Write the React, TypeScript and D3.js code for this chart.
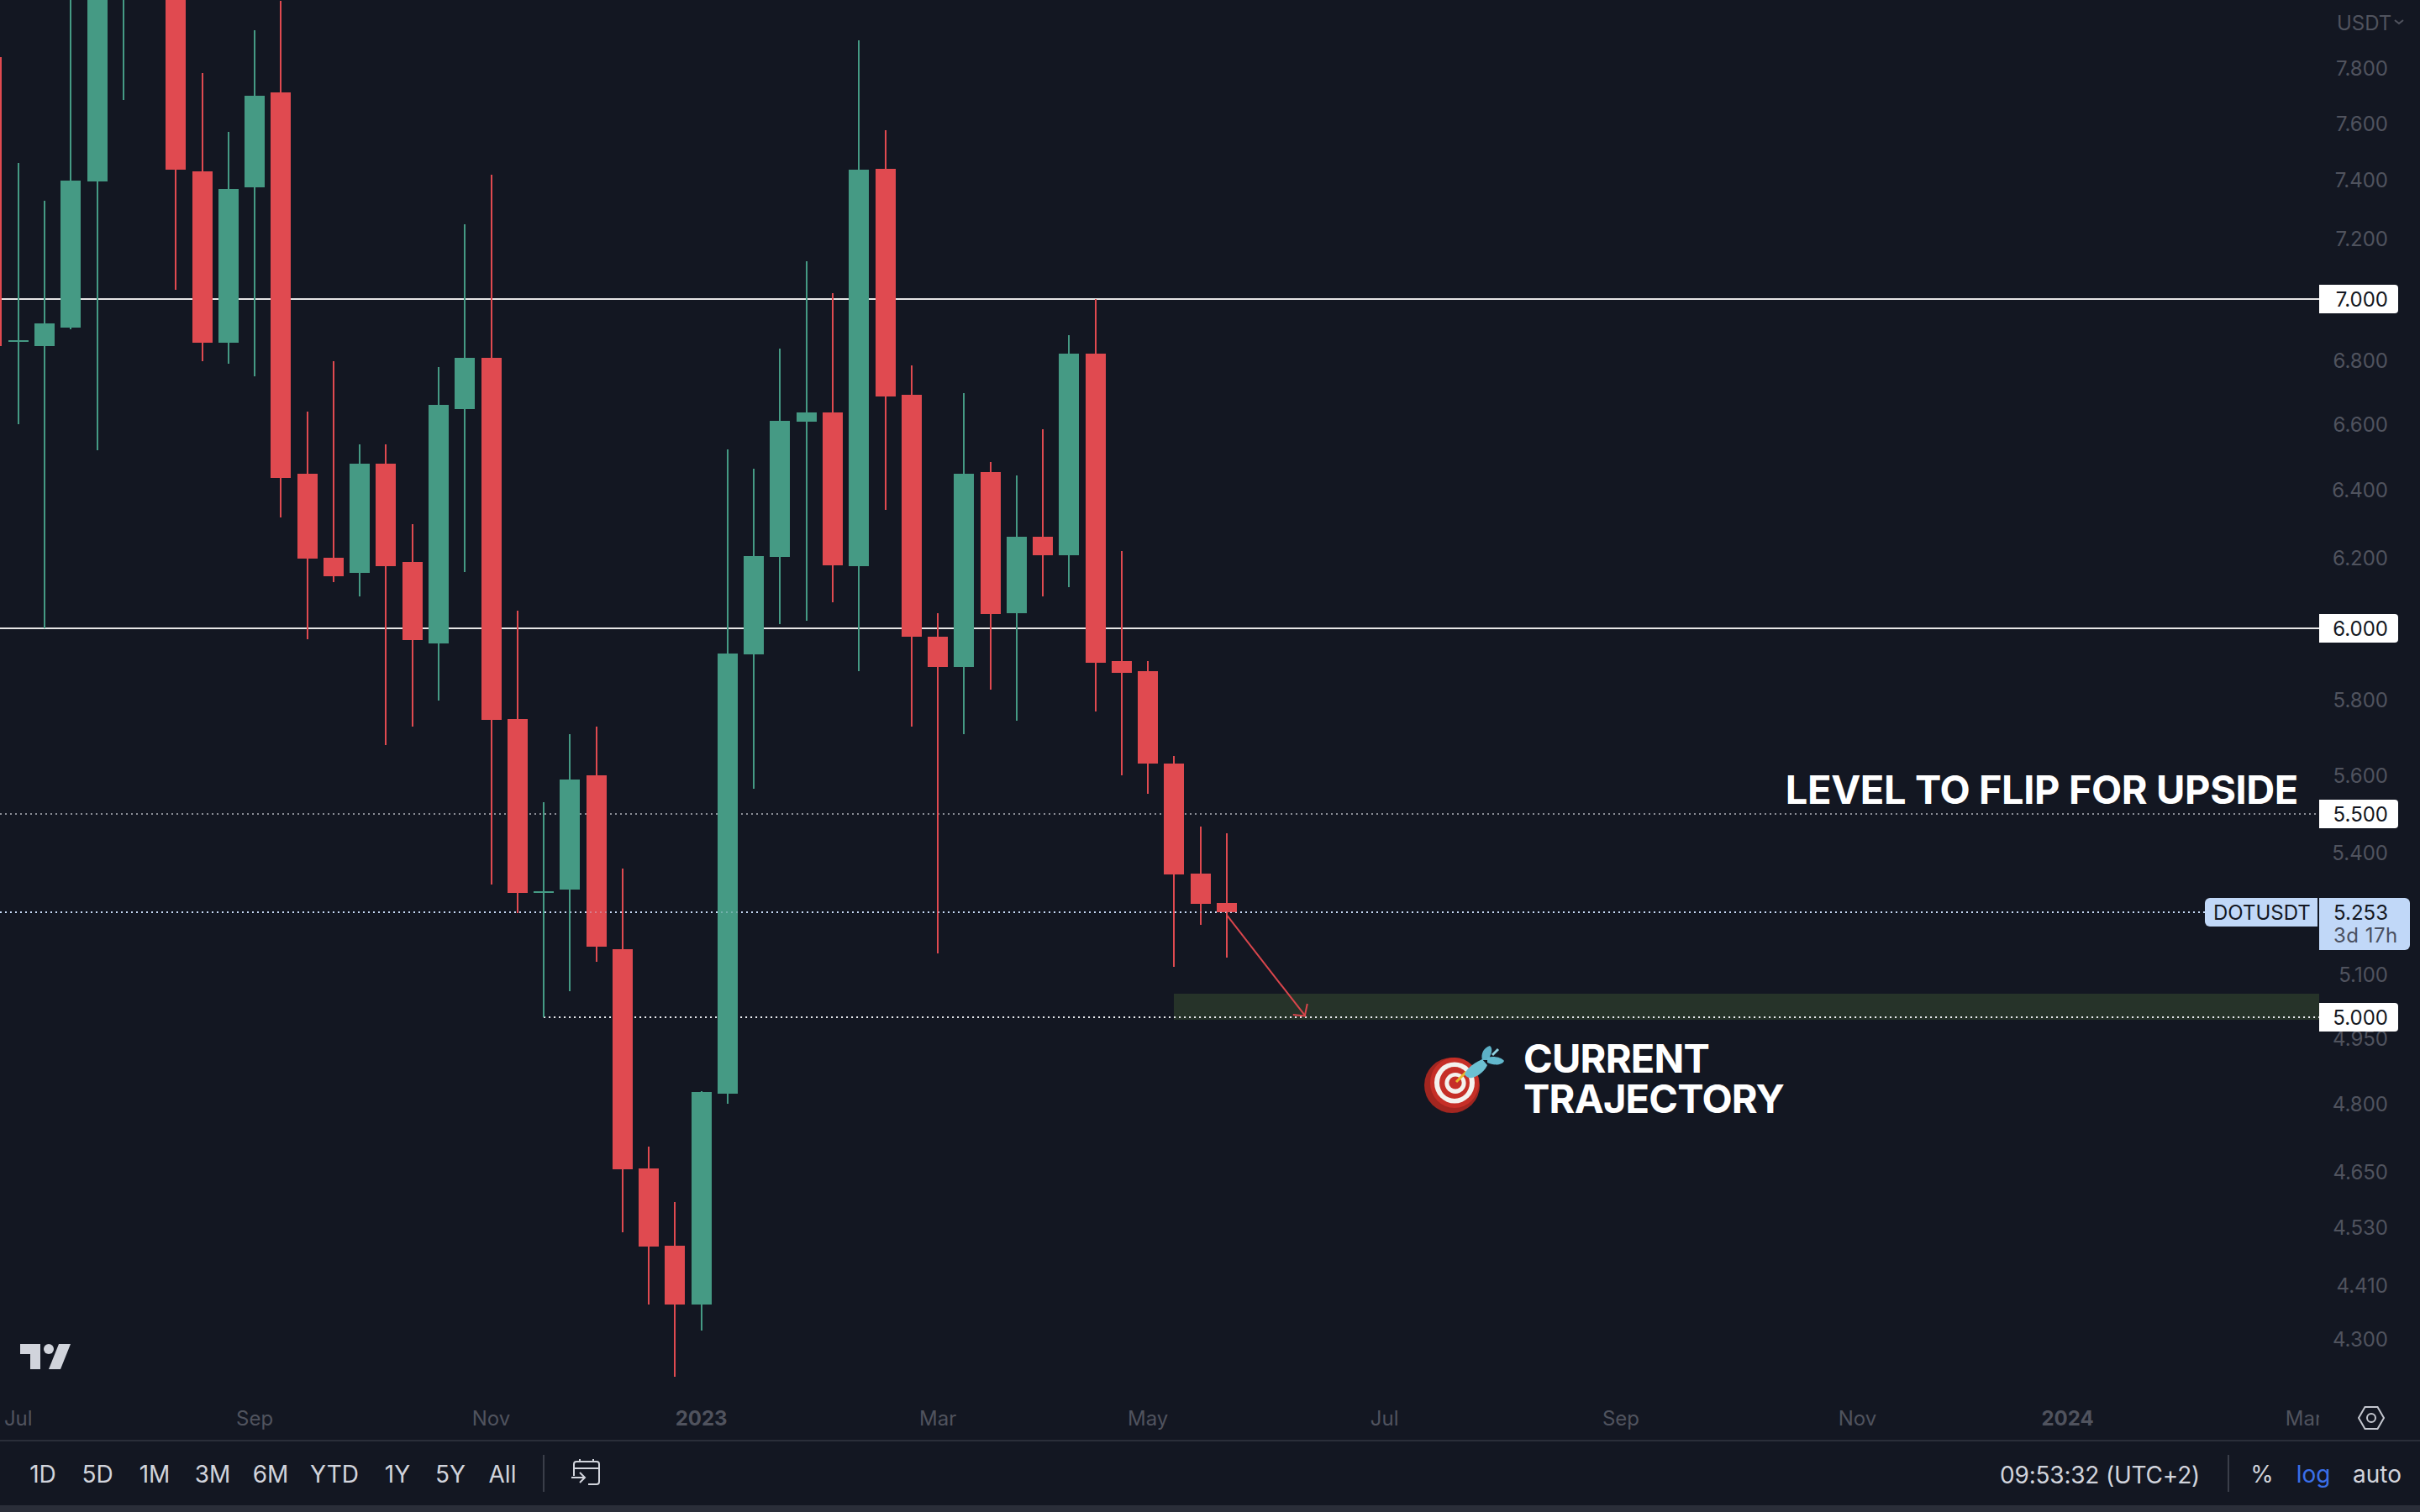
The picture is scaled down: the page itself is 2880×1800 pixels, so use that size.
import React from "react";
import * as d3 from "d3";

// ---- data (weekly DOTUSDT candles, first week of the list = 27 Jun 2022) ----
const firstWeek = "2022-06-27";
const opens = [7.839, 6.86, 6.848, 6.907, 7.396, 8.12, 8.8, 8.8, 7.431, 6.858, 7.376, 7.711, 6.45, 6.202, 6.158, 6.481, 6.189, 5.958, 6.649, 6.81, 5.75, 5.299, 5.309, 5.601, 5.161, 4.658, 4.492, 4.371, 4.825, 5.927, 6.204, 6.609, 6.638, 6.177, 7.44, 6.693, 5.976, 5.892, 6.455, 6.043, 6.263, 6.209, 6.823, 5.909, 5.879, 5.632, 5.349, 5.274];
const highs = [7.9, 7.46, 7.33, 8.2, 8.3, 8.6, 9.0, 8.95, 7.781, 7.57, 7.939, 8.049, 6.641, 6.799, 6.54, 6.54, 6.3, 6.781, 7.249, 7.42, 6.05, 5.531, 5.71, 5.73, 5.36, 4.706, 4.585, 4.829, 6.524, 6.465, 6.839, 7.125, 7.019, 7.901, 7.576, 6.786, 6.043, 6.698, 6.486, 6.445, 6.586, 6.883, 7.0, 6.221, 5.909, 5.65, 5.468, 5.451];
const lows = [6.8, 6.602, 6.0, 6.902, 6.522, 7.684, 8.3, 7.03, 6.799, 6.791, 6.751, 6.32, 5.969, 6.131, 6.09, 5.681, 5.73, 5.8, 6.16, 5.32, 5.251, 5.0, 5.061, 5.131, 4.521, 4.371, 4.225, 4.317, 4.801, 5.564, 6.01, 6.021, 6.074, 5.879, 6.342, 5.73, 5.151, 5.708, 5.83, 5.746, 6.09, 6.117, 5.769, 5.601, 5.551, 5.119, 5.222, 5.141];
const closes = [6.848, 6.866, 6.921, 7.399, 8.15, 8.4, 8.4, 7.437, 6.858, 7.37, 7.699, 6.438, 6.199, 6.148, 6.481, 6.177, 5.967, 6.662, 6.81, 5.748, 5.299, 5.303, 5.59, 5.169, 4.656, 4.491, 4.371, 4.827, 5.93, 6.206, 6.612, 6.638, 6.18, 7.437, 6.688, 5.976, 5.892, 6.45, 6.04, 6.263, 6.209, 6.823, 5.904, 5.876, 5.63, 5.345, 5.272, 5.253];

const priceTicks = [7.8, 7.6, 7.4, 7.2, 6.8, 6.6, 6.4, 6.2, 5.8, 5.6, 5.4, 5.1, 4.95, 4.8, 4.65, 4.53, 4.41, 4.3];
const timeTickDates = ["2022-07-04", "2022-09-05", "2022-11-07", "2023-01-02", "2023-03-06", "2023-05-01", "2023-07-03", "2023-09-04", "2023-11-06", "2024-01-01", "2024-03-04"];
const timeTickLabels = ["Jul", "Sep", "Nov", "2023", "Mar", "May", "Jul", "Sep", "Nov", "2024", "Mar"];
const boldTimeLabels = ["2023", "2024"];
const solidLevels = [7, 6];
const labelledLevels = [7, 6, 5.5, 5];
const lastPrice = 5.253;
const zoneTop = 5.055;
const zoneBottom = 4.994;
const zoneStartWeek = "2023-05-08";
const floorStartWeek = "2022-11-21";
const arrowFrom = { week: "2023-05-22", price: 5.245 };
const arrowTo = { week: "2023-06-12", price: 5.002 };
const rangeButtons = ["1D", "5D", "1M", "3M", "6M", "YTD", "1Y", "5Y", "All"];
const rangeCenters = [51, 116, 184, 253, 322, 398, 473, 536, 598];

// ---- layout ----
const W = 2880;
const H = 1800;
const PANE_R = 2760;
const FONT = "Inter, 'Noto Sans', sans-serif";
const BG = "#131722";
const GREY = "#50535e";
const LIGHT = "#d1d4dc";
const UP = "#459a84";
const DOWN = "#e04a50";

const d = (s: string) => new Date(s + "T00:00:00Z");
const weeks = d3.utcMonday.range(d(firstWeek), d3.utcDay.offset(d(firstWeek), 7 * opens.length));
const x = d3.scaleUtc().domain([d("2022-07-04"), d("2023-05-22")]).range([21.75, 1460]);
const y = d3.scaleLog().domain([7, 5]).range([356, 1211]);
const py = (v: number) => Math.round(y(v));
const fmt = d3.format(".3f");

function Label({ v, bg }: { v: number; bg: string }) {
  const c = py(v);
  return (
    <g>
      <path d={`M${PANE_R},${c - 17}H2850a4,4 0 0 1 4,4V${c + 13}a4,4 0 0 1 -4,4H${PANE_R}Z`} fill={bg} />
      <text x={2842} y={c} textAnchor="end" dominantBaseline="central" fontSize={24} fill="#131722" fontFamily={FONT}>{fmt(v)}</text>
    </g>
  );
}

function TargetEmoji() {
  return (
    <g>
      <ellipse cx={1728} cy={1292} rx={33} ry={33} fill="#a32620" />
      <ellipse cx={1731} cy={1289} rx={29} ry={30} fill="#c62f27" />
      <ellipse cx={1731} cy={1289} rx={24} ry={24.5} fill="#f4f2ee" />
      <ellipse cx={1731} cy={1289} rx={18} ry={19} fill="#c62f27" />
      <ellipse cx={1732} cy={1289.5} rx={12.6} ry={12.5} fill="#f4f2ee" />
      <ellipse cx={1732} cy={1289} rx={7.7} ry={7.5} fill="#c62f27" />
      <path d="M1733,1288L1745,1276" stroke="#e8b92e" strokeWidth={3} />
      <path d="M1743,1279C1745,1272 1755,1265 1764,1261L1770,1268C1767,1275 1760,1281 1752,1283C1748,1284 1745,1282 1743,1279Z" fill="#6cc0d2" />
      <path d="M1764,1262C1762,1254 1766,1247 1773,1245C1776,1247 1776,1252 1773,1258L1772,1262Z" fill="#5cb0c6" />
      <path d="M1770,1259C1776,1257 1786,1258 1790,1263C1788,1268 1778,1269 1770,1265Z" fill="#62b7cc" />
      <path d="M1776,1256L1783,1249" stroke="#8ed0df" strokeWidth={3} />
    </g>
  );
}

export default function App() {
  const candles = opens.map((o, i) => {
    const cx = Math.round(x(weeks[i]));
    const top = Math.round(y(Math.max(o, closes[i])));
    const bot = Math.round(y(Math.min(o, closes[i])));
    return { cx, top, bot, hi: Math.round(y(highs[i])), lo: Math.round(y(lows[i])), color: closes[i] >= o ? UP : DOWN };
  });
  const ax1 = x(d(arrowFrom.week)), ay1 = y(arrowFrom.price);
  const ax2 = x(d(arrowTo.week)), ay2 = y(arrowTo.price);
  const lastY = py(lastPrice);
  const zoneX = Math.round(x(d(zoneStartWeek)));

  return (
    <svg width={W} height={H} viewBox={`0 0 ${W} ${H}`} style={{ position: "fixed", left: 0, top: 0, display: "block" }}>
      <defs>
        <clipPath id="pane"><rect x={0} y={0} width={PANE_R} height={1714} /></clipPath>
        <clipPath id="timeaxis"><rect x={0} y={1660} width={PANE_R} height={54} /></clipPath>
      </defs>
      <rect width={W} height={H} fill={BG} />

      <g clipPath="url(#pane)">
        <rect x={zoneX} y={py(zoneTop)} width={PANE_R - zoneX} height={py(zoneBottom) - py(zoneTop)} fill="#263329" />
        {solidLevels.map(v => (
          <line key={v} x1={0} x2={PANE_R} y1={py(v)} y2={py(v)} stroke="#e6e6e6" strokeWidth={2} />
        ))}
        <line x1={0} x2={2757} y1={py(5.5)} y2={py(5.5)} stroke="#8a8d96" strokeWidth={2} strokeDasharray="2 4" />
        <line x1={x(d(floorStartWeek))} x2={PANE_R} y1={py(5)} y2={py(5)} stroke="#eef0f4" strokeWidth={2} strokeDasharray="2 4" />
        <line x1={0} x2={2624} y1={lastY} y2={lastY} stroke="#c9dcf8" strokeWidth={2} strokeDasharray="2 4" />
        {candles.map((c, i) => (
          <g key={i}>
            <rect x={c.cx - 1} y={c.hi} width={2} height={Math.max(1, c.lo - c.hi)} fill={c.color} />
            <rect x={c.cx - 12} y={c.top} width={24} height={Math.max(2, c.bot - c.top)} fill={c.color} />
          </g>
        ))}
        <line x1={0} x2={2624} y1={lastY} y2={lastY} stroke="#c9dcf8" strokeWidth={2} strokeDasharray="2 4" opacity={0.35} />
        <g stroke="#d9464c" strokeWidth={2} fill="none">
          <line x1={ax1} y1={ay1} x2={ax2} y2={ay2} />
          <polyline points={`${ax2 - 15},${ay2 - 2} ${ax2 - 1},${ay2 - 0.5} ${ax2 + 2},${ay2 - 15}`} />
        </g>
      </g>

      <text x={2735} y={957} textAnchor="end" fontSize={47} fontWeight={700} letterSpacing={-0.4} fill="#ffffff" fontFamily={FONT}>LEVEL TO FLIP FOR UPSIDE</text>
      <text fontSize={47} fontWeight={700} letterSpacing={-0.8} fill="#ffffff" fontFamily={FONT}>
        <tspan x={1813} y={1277}>CURRENT</tspan>
        <tspan x={1813} y={1325}>TRAJECTORY</tspan>
      </text>
      <TargetEmoji />

      {/* TradingView mark */}
      <g fill="#d1d4dc">
        <path d="M24,1600H48V1630H36V1612H24Z" />
        <circle cx={58} cy={1606} r={6} />
        <path d="M70,1600H84L72,1630H58Z" />
      </g>

      {/* price axis */}
      <g fontFamily={FONT} fontSize={24} fill={GREY}>
        <text x={2781} y={27} dominantBaseline="central">USDT</text>
        {priceTicks.map(v => (
          <text key={v} x={2842} y={y(v)} textAnchor="end" dominantBaseline="central">{fmt(v)}</text>
        ))}
      </g>
      <path d="M2850,24L2855,28L2860,24" fill="none" stroke={GREY} strokeWidth={2} />

      {labelledLevels.map(v => <Label key={v} v={v} bg="#ffffff" />)}

      <path d="M2630,1069H2758V1103H2630a6,6 0 0 1 -6,-6V1075a6,6 0 0 1 6,-6Z" fill="#c1d8f8" />
      <text x={2634} y={1086} dominantBaseline="central" fontSize={24} fill="#131722" fontFamily={FONT}>DOTUSDT</text>
      <path d={`M${PANE_R},1069H2862a6,6 0 0 1 6,6V1125a6,6 0 0 1 -6,6H${PANE_R}Z`} fill="#c1d8f8" />
      <text x={2842} y={1086} textAnchor="end" dominantBaseline="central" fontSize={24} fill="#131722" fontFamily={FONT}>{fmt(lastPrice)}</text>
      <text x={2777} y={1113} dominantBaseline="central" fontSize={24} letterSpacing={0.5} fill="#4a5060" fontFamily={FONT}>3d 17h</text>

      {/* time axis */}
      <g clipPath="url(#timeaxis)" fontFamily={FONT} fontSize={24} fill={GREY}>
        {timeTickDates.map((t, i) => (
          <text key={t} x={x(d(t))} y={1688} textAnchor="middle" dominantBaseline="central"
            fontWeight={boldTimeLabels.includes(timeTickLabels[i]) ? 700 : 400}>{timeTickLabels[i]}</text>
        ))}
      </g>
      <g fill="none" stroke="#c4c7cf" strokeWidth={2}>
        <path d="M2807,1688L2814.5,1675H2829.5L2837,1688L2829.5,1701H2814.5Z" />
        <circle cx={2822} cy={1688} r={5} />
      </g>
      <rect x={0} y={1714} width={W} height={2} fill="#2a2e39" />

      {/* bottom bar */}
      <g fontFamily={FONT} fontSize={28} fill={LIGHT}>
        {rangeButtons.map((b, i) => (
          <text key={b} x={rangeCenters[i]} y={1755} textAnchor="middle" dominantBaseline="central">{b}</text>
        ))}
        <text x={2380} y={1756} dominantBaseline="central" letterSpacing={-0.2}>09:53:32 (UTC+2)</text>
        <text x={2692} y={1755} textAnchor="middle" dominantBaseline="central">%</text>
        <text x={2753} y={1755} textAnchor="middle" dominantBaseline="central" fill="#3a6fe8">log</text>
        <text x={2829} y={1755} textAnchor="middle" dominantBaseline="central">auto</text>
      </g>
      <rect x={646} y={1732} width={2} height={44} fill="#3a3e49" />
      <rect x={2651} y={1732} width={2} height={44} fill="#3a3e49" />
      <g fill="none" stroke={LIGHT} strokeWidth={2}>
        <path d="M683,1757V1743a3,3 0 0 1 3,-3H710a3,3 0 0 1 3,3V1764a3,3 0 0 1 -3,3H700" />
        <path d="M683,1748H713M690,1737V1741M706,1737V1741" />
        <path d="M680,1759H696M690,1753L696,1759L690,1765" />
      </g>
      <rect x={0} y={1792} width={W} height={8} fill="#2a2e39" />
    </svg>
  );
}
